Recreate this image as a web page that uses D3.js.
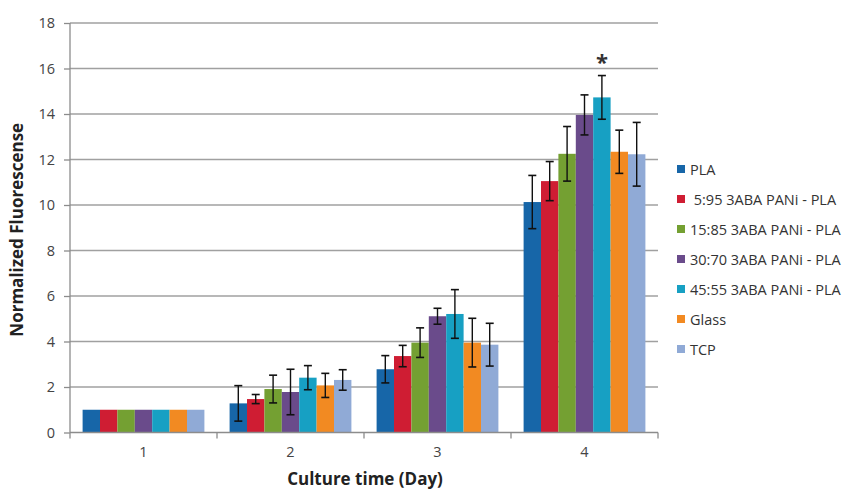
<!DOCTYPE html>
<html><head><meta charset="utf-8">
<script src="https://cdnjs.cloudflare.com/ajax/libs/d3/7.8.5/d3.min.js"></script>
<style>body{margin:0;background:#fff}svg{display:block}</style>
</head><body>
<svg id="c" width="842" height="492"></svg>
<script>
const days = ["1","2","3","4"];
const seriesNames = ["PLA"," 5:95 3ABA PANi - PLA","15:85 3ABA PANi - PLA","30:70 3ABA PANi - PLA","45:55 3ABA PANi - PLA","Glass","TCP"];
const colors = ["#1766a8","#cf1d33","#74a032","#6a4b8b","#17a0c3","#f28a22","#90aad6"];
const PLA   = [1, 1.28, 2.78, 10.13];
const r595  = [1, 1.47, 3.36, 11.05];
const r1585 = [1, 1.91, 3.95, 12.25];
const r3070 = [1, 1.78, 5.11, 13.96];
const r4555 = [1, 2.41, 5.21, 14.73];
const glass = [1, 2.07, 3.95, 12.34];
const tcp   = [1, 2.31, 3.86, 12.23];
const errPLA   = [0, 0.78, 0.60, 1.17];
const err595   = [0, 0.20, 0.47, 0.86];
const err1585  = [0, 0.61, 0.65, 1.20];
const err3070  = [0, 1.00, 0.35, 0.88];
const err4555  = [0, 0.53, 1.07, 0.96];
const errGlass = [0, 0.53, 1.07, 0.95];
const errTcp   = [0, 0.45, 0.94, 1.40];
const yTicks = [0,2,4,6,8,10,12,14,16,18];

const values = [PLA, r595, r1585, r3070, r4555, glass, tcp];
const errs = [errPLA, err595, err1585, err3070, err4555, errGlass, errTcp];

const svg = d3.select("#c");
const pL = 70, pR = 658, pT = 23, pB = 432.5;
const x0 = d3.scaleBand().domain(days).range([pL, pR]).paddingInner(0).paddingOuter(0);
const inner = 17.4*7;
const x1 = d3.scaleBand().domain(d3.range(7)).range([0, inner]).padding(0);
const y = d3.scaleLinear().domain([0,18]).range([pB, pT]);
const font = "'Open Sans', 'Liberation Sans', sans-serif";

// gridlines
svg.append("g").selectAll("line").data(yTicks.filter(d=>d>0)).join("line")
  .attr("x1", pL).attr("x2", pR).attr("y1", d=>y(d)).attr("y2", d=>y(d))
  .attr("stroke", "#a0a0a0").attr("stroke-width", 1.3);

// y axis
const ya = svg.append("g").attr("transform", `translate(${pL},0)`)
  .call(d3.axisLeft(y).tickValues(yTicks).tickSize(6).tickPadding(9));
ya.selectAll("path,line").attr("stroke","#8c8c8c").attr("stroke-width",1.3);
ya.select(".domain").attr("d", `M0,${pB}V${pT}`);
ya.selectAll("text").attr("font-family", font).attr("font-size", 14.5).attr("fill","#444");

// bars
const groups = svg.append("g").selectAll("g").data(days).join("g")
  .attr("transform", d => `translate(${x0(d) + (x0.bandwidth()-inner)/2},0)`);
values.forEach((vals, si) => {
  groups.append("rect")
    .attr("x", x1(si)).attr("width", x1.bandwidth())
    .attr("y", (d,i) => y(vals[i])).attr("height", (d,i) => pB - y(vals[i]))
    .attr("fill", colors[si]);
});
// error bars
values.forEach((vals, si) => {
  groups.each(function(d,i){
    const e = errs[si][i];
    if (!e) return;
    const g = d3.select(this);
    const cx = x1(si) + x1.bandwidth()/2;
    const y1v = y(vals[i]+e), y2v = y(vals[i]-e);
    g.append("line").attr("x1",cx).attr("x2",cx).attr("y1",y1v).attr("y2",y2v).attr("stroke","#111").attr("stroke-width",1.4);
    [y1v,y2v].forEach(yy => g.append("line").attr("x1",cx-4).attr("x2",cx+4).attr("y1",yy).attr("y2",yy).attr("stroke","#111").attr("stroke-width",1.6));
  });
});

// x axis
const xa = svg.append("g").attr("transform", `translate(0,${pB})`)
  .call(d3.axisBottom(x0).tickSize(0).tickPadding(14));
xa.select(".domain").attr("stroke","#8c8c8c").attr("stroke-width",1.3).attr("d", `M${pL},0H${pR}`);
xa.selectAll("text").attr("font-family", font).attr("font-size", 14.5).attr("fill","#444");
xa.selectAll(".sep").data(days.concat(["end"])).join("line").attr("class","sep")
  .attr("x1", (d,i) => pL + i*x0.bandwidth()).attr("x2", (d,i) => pL + i*x0.bandwidth())
  .attr("y1", 0).attr("y2", 6).attr("stroke","#8c8c8c").attr("stroke-width",1.3);

// asterisk
svg.append("text").attr("x", x0("4") + (x0.bandwidth()-inner)/2 + x1(4) + x1.bandwidth()/2)
  .attr("y", y(r4555[3]+err4555[3]) - 6).attr("text-anchor","middle")
  .attr("font-family", font).attr("font-size", 22).attr("font-weight","bold").attr("fill","#333").text("*");

// axis titles
svg.append("text").attr("transform", `translate(23,${(pT+pB)/2 + 2}) rotate(-90)`)
  .attr("text-anchor","middle").attr("font-family", font).attr("font-size", 17).attr("font-weight","bold").attr("fill","#222")
  .text("Normalized Fluorescense");
svg.append("text").attr("x", 365).attr("y", 485).attr("text-anchor","middle")
  .attr("font-family", font).attr("font-size", 17).attr("font-weight","bold").attr("fill","#222")
  .text("Culture time (Day)");

// legend
const lg = svg.append("g").selectAll("g").data(seriesNames).join("g")
  .attr("transform", (d,i) => `translate(677,${169 + i*30})`);
lg.append("rect").attr("x",0).attr("y",-4).attr("width",8).attr("height",8).attr("fill",(d,i)=>colors[i]);
lg.append("text").attr("x",13).attr("y",5.5).attr("font-family",font).attr("font-size",14.5).attr("fill","#333")
  .attr("xml:space","preserve").style("white-space","pre").text(d=>d);
</script>
</body></html>
